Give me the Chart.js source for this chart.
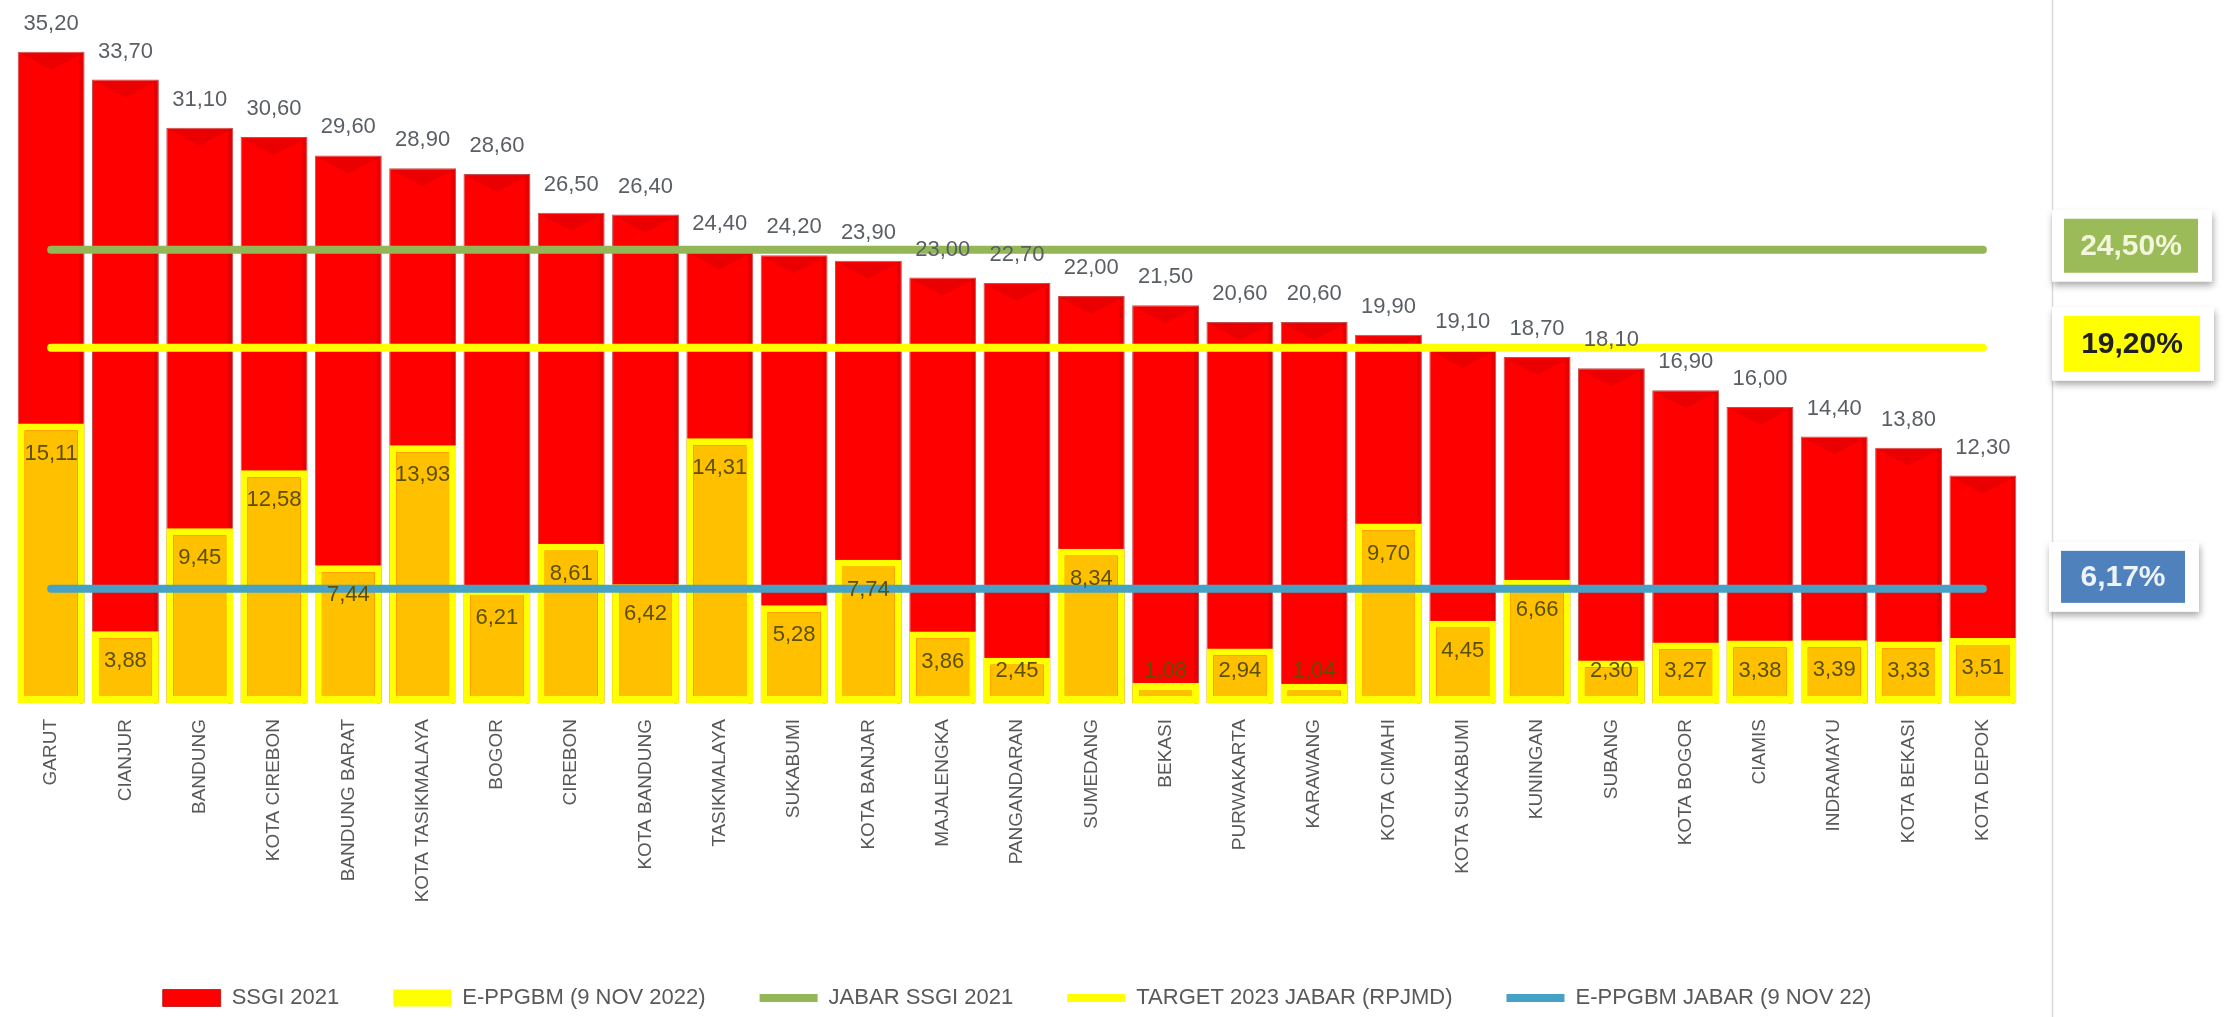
<!DOCTYPE html>
<html>
<head>
<meta charset="utf-8">
<title>Stunting Jabar</title>
<script src="https://cdn.jsdelivr.net/npm/chart.js@4.4.1/dist/chart.umd.min.js"></script>
<style>
  html, body { margin: 0; padding: 0; background: #fff; }
  #wrap { width: 2226px; height: 1017px; }
</style>
</head>
<body>
<div id="wrap"><canvas id="chart-stunting" width="2226" height="1017"></canvas></div>
<script>
// kab/kota, sorted by SSGI 2021
const kabkota = ['GARUT', 'CIANJUR', 'BANDUNG', 'KOTA CIREBON', 'BANDUNG BARAT', 'KOTA TASIKMALAYA', 'BOGOR', 'CIREBON',
  'KOTA BANDUNG', 'TASIKMALAYA', 'SUKABUMI', 'KOTA BANJAR', 'MAJALENGKA', 'PANGANDARAN', 'SUMEDANG', 'BEKASI',
  'PURWAKARTA', 'KARAWANG', 'KOTA CIMAHI', 'KOTA SUKABUMI', 'KUNINGAN', 'SUBANG', 'KOTA BOGOR', 'CIAMIS',
  'INDRAMAYU', 'KOTA BEKASI', 'KOTA DEPOK'];
const ssgi2021 = [35.20, 33.70, 31.10, 30.60, 29.60, 28.90, 28.60, 26.50, 26.40, 24.40, 24.20, 23.90, 23.00, 22.70,
  22.00, 21.50, 20.60, 20.60, 19.90, 19.10, 18.70, 18.10, 16.90, 16.00, 14.40, 13.80, 12.30];
const eppgbm2022 = [15.11, 3.88, 9.45, 12.58, 7.44, 13.93, 6.21, 8.61, 6.42, 14.31, 5.28, 7.74, 3.86, 2.45,
  8.34, 1.08, 2.94, 1.04, 9.70, 4.45, 6.66, 2.30, 3.27, 3.38, 3.39, 3.33, 3.51];
// reference lines (province level)
const jabarSsgi2021 = 24.50;
const targetJabar2023 = 19.20;
const eppgbmJabar = 6.17;

const FONT = '"Liberation Sans", Arial, sans-serif';

function fmt(v) {
  return v.toFixed(2).replace('.', ',');
}

// line across first..last kab/kota
function refLine(v) {
  return [{ x: kabkota[0], y: v }, { x: kabkota[kabkota.length - 1], y: v }];
}

/** little bevel on top of the red bars */
const bevelPlugin = {
  id: 'bevel',
  afterDatasetDraw(chart, args) {
    if (args.index !== 0) return;
    const ctx = chart.ctx;
    ctx.save();
    args.meta.data.forEach(bar => {
      const l = bar.x - bar.width / 2, r = bar.x + bar.width / 2;
      ctx.fillStyle = 'rgba(150,0,0,0.20)';
      ctx.beginPath();
      ctx.moveTo(l + 3, bar.y + 2);
      ctx.lineTo(r - 3, bar.y + 2);
      ctx.lineTo(bar.x, bar.y + 18);
      ctx.closePath();
      ctx.fill();
      ctx.fillStyle = 'rgba(120,0,0,0.18)';
      ctx.fillRect(r - 5, bar.y + 1, 4, bar.base - bar.y);
    });
    ctx.restore();
  }
};

/** value labels */
const valueLabels = {
  id: 'valueLabels',
  afterDatasetsDraw(chart) {
    const ctx = chart.ctx;
    const base = chart.scales.y.getPixelForValue(0);
    ctx.save();
    ctx.textAlign = 'center';
    ctx.textBaseline = 'middle';
    ctx.font = '22px ' + FONT;
    chart.getDatasetMeta(0).data.forEach((bar, i) => {
      ctx.fillStyle = '#5a5f66';
      ctx.fillText(fmt(ssgi2021[i]), bar.x, bar.y - 28);
    });
    chart.getDatasetMeta(1).data.forEach((bar, i) => {
      ctx.fillStyle = '#5c5000';
      ctx.fillText(fmt(eppgbm2022[i]), bar.x, Math.min(bar.y + 30, base - 32));
    });
    ctx.restore();
  }
};

/** boxes on the right with the province values */
const sideBoxes = [
  { value: jabarSsgi2021, bg: '#9BBB59', fg: '#F2F6DA', x: 2064, w: 134, h: 54, dy: -4 },
  { value: targetJabar2023, bg: '#FFFF00', fg: '#202020', x: 2064, w: 136, h: 56, dy: -4 },
  { value: eppgbmJabar, bg: '#4F81BD', fg: '#EEF3FA', x: 2061, w: 124, h: 52, dy: -12 }
];

const sidePanel = {
  id: 'sidePanel',
  afterDraw(chart) {
    const ctx = chart.ctx;
    const y = chart.scales.y;
    ctx.save();
    ctx.strokeStyle = '#d9d9d9';
    ctx.lineWidth = 1.5;
    ctx.beginPath();
    ctx.moveTo(2052.5, 0);
    ctx.lineTo(2052.5, chart.height);
    ctx.stroke();

    sideBoxes.forEach(b => {
      const top = y.getPixelForValue(b.value) + b.dy - b.h / 2;
      ctx.save();
      ctx.shadowColor = 'rgba(0,0,0,0.35)';
      ctx.shadowBlur = 7;
      ctx.shadowOffsetY = 4;
      ctx.shadowOffsetX = 1;
      ctx.fillStyle = '#fff';
      ctx.fillRect(b.x - 12, top - 9, b.w + 26, b.h + 18);
      ctx.restore();
      ctx.fillStyle = b.bg;
      ctx.fillRect(b.x, top, b.w, b.h);
      ctx.fillStyle = b.fg;
      ctx.font = 'bold 30px ' + FONT;
      ctx.textAlign = 'center';
      ctx.textBaseline = 'middle';
      ctx.fillText(fmt(b.value) + '%', b.x + b.w / 2, top + b.h / 2 + 1);
    });
    ctx.restore();
  }
};

const ctx_stunting = document.getElementById('chart-stunting');

new Chart(ctx_stunting, {
  type: 'bar',
  data: {
    labels: kabkota,
    datasets: [
      {
        label: 'SSGI 2021',
        data: ssgi2021,
        backgroundColor: '#FF0000',
        borderColor: 'rgba(170,0,0,0.7)',
        borderWidth: 1,
        grouped: false,
        barPercentage: 0.9,
        categoryPercentage: 1.0,
        order: 3
      },
      {
        label: 'E-PPGBM (9 NOV 2022)',
        data: eppgbm2022,
        backgroundColor: '#FFC000',
        borderColor: '#FFFF00',
        borderWidth: 7,
        borderSkipped: false,
        grouped: false,
        barPercentage: 0.9,
        categoryPercentage: 1.0,
        order: 2
      },
      {
        type: 'line',
        label: 'JABAR SSGI 2021',
        data: refLine(jabarSsgi2021),
        borderColor: '#93B656',
        backgroundColor: '#93B656',
        borderWidth: 8,
        borderCapStyle: 'round',
        pointRadius: 0,
        order: 1
      },
      {
        type: 'line',
        label: 'TARGET 2023 JABAR (RPJMD)',
        data: refLine(targetJabar2023),
        borderColor: '#FFFF00',
        backgroundColor: '#FFFF00',
        borderWidth: 8,
        borderCapStyle: 'round',
        pointRadius: 0,
        order: 1
      },
      {
        type: 'line',
        label: 'E-PPGBM JABAR (9 NOV 22)',
        data: refLine(eppgbmJabar),
        borderColor: '#45A2C6',
        backgroundColor: '#45A2C6',
        borderWidth: 8,
        borderCapStyle: 'round',
        pointRadius: 0,
        order: 0
      }
    ]
  },
  options: {
    responsive: false,
    animation: false,
    layout: {
      padding: { left: 14, right: 206, top: 0, bottom: -2 }
    },
    scales: {
      x: {
        grid: { display: false, drawTicks: false },
        border: { display: false },
        ticks: {
          autoSkip: false,
          minRotation: 90,
          maxRotation: 90,
          padding: 16,
          color: '#595959',
          font: { size: 19, family: FONT }
        },
        afterFit: function (axis) {
          axis.height = 230;
        }
      },
      y: {
        display: false,
        min: 0,
        max: 38
      }
    },
    plugins: {
      tooltip: { enabled: false },
      legend: {
        position: 'bottom',
        labels: {
          usePointStyle: true,
          pointStyleWidth: 58,
          boxHeight: 17,
          padding: 54,
          color: '#595959',
          font: { size: 22, family: FONT },
          sort: (a, b) => a.datasetIndex - b.datasetIndex,
          generateLabels: function (chart) {
            const items = Chart.defaults.plugins.legend.labels.generateLabels(chart);
            items.forEach(item => {
              const ds = chart.data.datasets[item.datasetIndex];
              item.pointStyle = ds.type === 'line' ? 'line' : 'rect';
              if (item.datasetIndex === 1) {
                item.fillStyle = '#FFFF00';
                item.lineWidth = 0;
              }
            });
            return items;
          }
        }
      }
    }
  },
  plugins: [bevelPlugin, valueLabels, sidePanel]
});
</script>
</body>
</html>
